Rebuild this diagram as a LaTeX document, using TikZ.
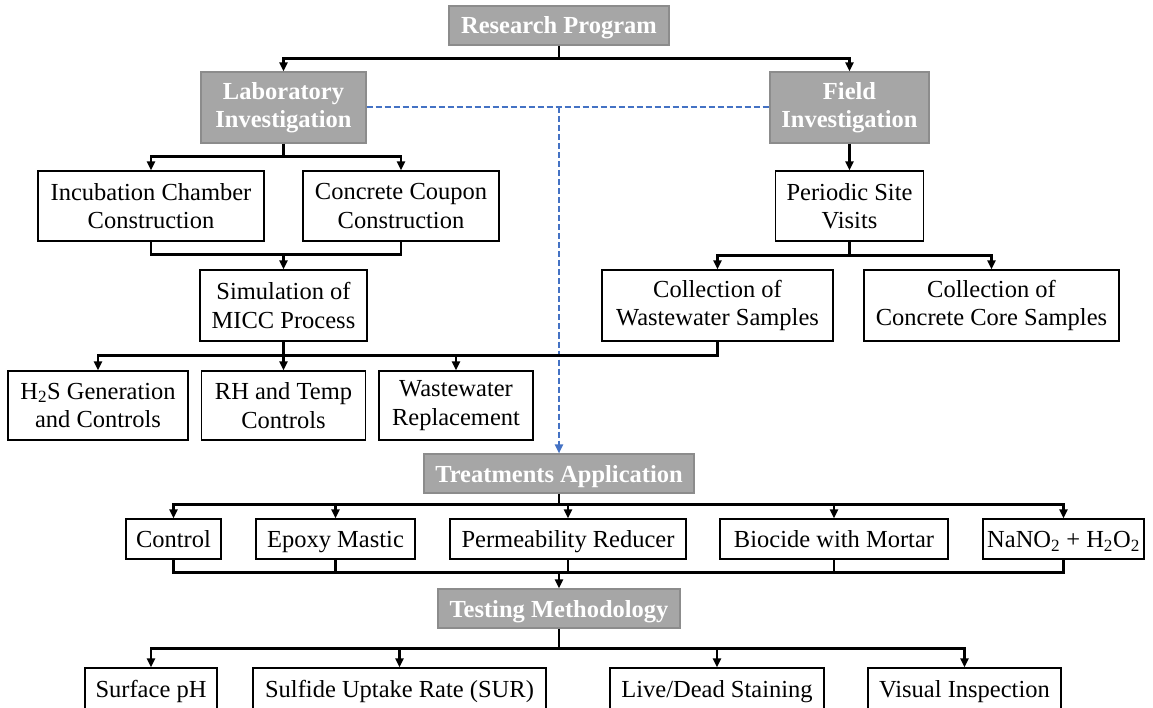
\documentclass[tikz,border=0pt]{standalone}
\usepackage{fontspec}
\setmainfont{Liberation Serif}
\usetikzlibrary{arrows.meta,calc}
\definecolor{boxgray}{RGB}{166,166,166}
\definecolor{boxgrayline}{RGB}{140,140,140}
\definecolor{dblue}{RGB}{68,114,196}
\begin{document}
\begin{tikzpicture}[x=1pt,y=-1pt,
  box/.style={draw=black,line width=1.1pt,fill=white,align=center,inner sep=0pt,font=\fontsize{24.5}{28.5}\selectfont},
  gbox/.style={draw=boxgrayline,line width=1.1pt,fill=boxgray,text=white,align=center,inner sep=0pt,font=\fontsize{24.5}{28.5}\selectfont\bfseries},
  one/.style={text height=19.5pt,text depth=2.5pt},
  sz/.style 2 args={minimum width=#1pt,minimum height=#2pt},
  conn/.style={line width=2.4pt,black},
  arr/.style={conn,-{Triangle[length=9pt,width=8pt]}},
  dline/.style={line width=2pt,dblue,dash pattern=on 6pt off 3pt},
  darr/.style={dline,-{Triangle[length=9pt,width=8pt]}}
]
\clip (0,0) rectangle (1153,708);
\fill[white] (0,0) rectangle (1153,708);

% nodes
\node[gbox,one,sz={220}{39}] (rp) at (559,25.5) {Research Program};
\node[gbox,sz={165}{71}] (lab) at (283.5,107.5) {Laboratory\\Investigation};
\node[gbox,sz={159}{71}] (fld) at (849.5,107.5) {Field\\Investigation};
\node[box,sz={226}{70}] (inc) at (151,206) {Incubation Chamber\\Construction};
\node[box,sz={196}{70}] (cou) at (401,206) {Concrete Coupon\\Construction};
\node[box,sz={167}{71}] (sim) at (283.5,305.5) {Simulation of\\MICC Process};
\node[box,sz={148}{70}] (psv) at (849.5,206) {Periodic Site\\Visits};
\node[box,sz={231}{71}] (cww) at (717.5,305.5) {Collection of\\Wastewater Samples};
\node[box,sz={255}{71}] (ccc) at (991.5,305.5) {Collection of\\Concrete Core Samples};
\node[box,sz={180}{69}] (h2s) at (98,405.5) {H\textsubscript{2}S Generation\\and Controls};
\node[box,sz={164}{69}] (rh) at (283.5,405.5) {RH and Temp\\Controls};
\node[box,sz={154}{69}] (wr) at (456,405.5) {Wastewater\\Replacement};
\node[gbox,one,sz={270}{39}] (tr) at (559,473.5) {Treatments Application};
\node[box,one,sz={95}{40}] (ctl) at (173.5,539) {Control};
\node[box,one,sz={159}{40}] (epx) at (335.5,539) {Epoxy Mastic};
\node[box,one,sz={236}{40}] (prm) at (568,539) {Permeability Reducer};
\node[box,one,sz={228}{40}] (bio) at (834,539) {Biocide with Mortar};
\node[box,one,sz={161}{40}] (nan) at (1063.5,539) {NaNO\textsubscript{2} + H\textsubscript{2}O\textsubscript{2}};
\node[gbox,one,sz={242}{39}] (tm) at (559,608.5) {Testing Methodology};
\node[box,one,sz={132}{42}] (sph) at (151,689) {Surface pH};
\node[box,one,sz={293}{42}] (sur) at (399.5,689) {Sulfide Uptake Rate (SUR)};
\node[box,one,sz={214}{42}] (lds) at (717,689) {Live/Dead Staining};
\node[box,one,sz={193}{42}] (vis) at (964.5,689) {Visual Inspection};

% research program
\coordinate (j0) at ($(rp.south)+(0,13)$);
\draw[conn] (rp.south) -- (j0);
\draw[arr] (j0) -| (lab.north);
\draw[arr] (j0) -| (fld.north);

% dashed link
\coordinate (d0) at (tr.north |- lab.east);
\draw[dline] (lab.east) -- (fld.west);
\draw[darr] (d0) -- (tr.north);

% laboratory
\coordinate (j1) at ($(lab.south)+(0,13)$);
\draw[conn] (lab.south) -- (j1);
\draw[arr] (j1) -| (inc.north);
\draw[arr] (j1) -| (cou.north);
\coordinate (j2) at ($(sim.north)+(0,-15)$);
\draw[conn] (inc.south) |- (j2);
\draw[conn] (cou.south) |- (j2);
\draw[arr] (j2) -- (sim.north);
\coordinate (j3) at ($(sim.south)+(0,14)$);
\draw[conn] (sim.south) -- (j3);
\draw[arr] (j3) -| (h2s.north);
\draw[arr] (j3) -- (rh.north);
\draw[arr] (j3) -| (wr.north);
\draw[conn] (cww.south) |- (j3);

% field
\draw[arr] (fld.south) -- (psv.north);
\coordinate (j4) at ($(psv.south)+(0,14)$);
\draw[conn] (psv.south) -- (j4);
\draw[arr] (j4) -| (cww.north);
\draw[arr] (j4) -| (ccc.north);

% treatments
\coordinate (j5) at ($(tr.south)+(0,11)$);
\draw[conn] (tr.south) -- (j5);
\foreach \n in {ctl,epx,prm,bio,nan} \draw[arr] (j5) -| (\n.north);
\coordinate (j6) at ($(tm.north)+(0,-16)$);
\foreach \n in {ctl,epx,prm,bio,nan} \draw[conn] (\n.south) |- (j6);
\draw[arr] (j6) -- (tm.north);

% testing
\coordinate (j7) at ($(tm.south)+(0,20)$);
\draw[conn] (tm.south) -- (j7);
\foreach \n in {sph,sur,lds,vis} \draw[arr] (j7) -| (\n.north);
\end{tikzpicture}
\end{document}
